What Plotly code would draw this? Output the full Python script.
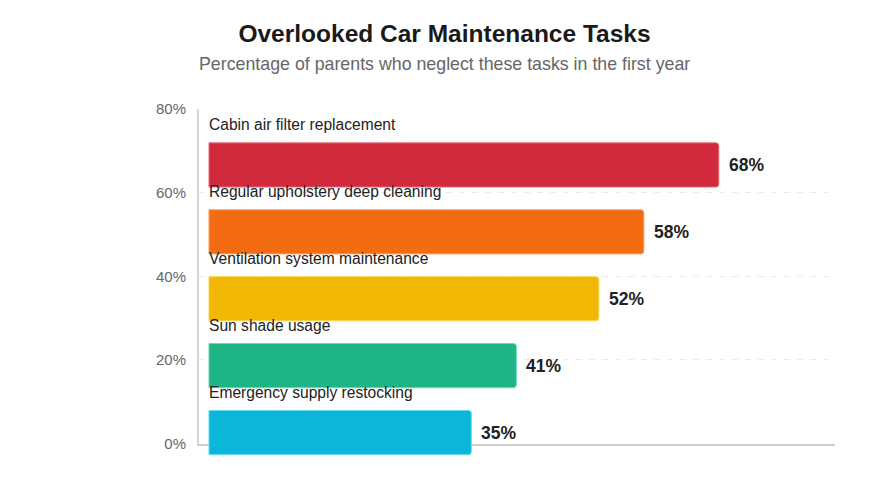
import plotly.graph_objects as go

tasks = ['Cabin air filter replacement', 'Regular upholstery deep cleaning',
         'Ventilation system maintenance', 'Sun shade usage', 'Emergency supply restocking']
values = [68, 58, 52, 41, 35]
colors = ['#d22a3d', '#f46c11', '#f2b705', '#1db486', '#0bb6d8']
edge_colors = ['#e86a78', '#fba15e', '#fbd45a', '#6fd8b5', '#6adcf2']
pct_ticks = [0, 20, 40, 60, 80]
pct_labels = ['0%', '20%', '40%', '60%', '80%']

W, H = 873, 472
ML, MR, MT, MB = 191, 46, 101, 13.5

fig = go.Figure()

# empty trace on the percentage axis (drawn first so its grid sits under the bars)
fig.add_trace(go.Scatter(x=[None], y=[None], yaxis='y', showlegend=False))

fig.add_trace(go.Bar(
    y=tasks, x=values, orientation='h', yaxis='y2',
    marker=dict(color=colors, line=dict(color=edge_colors, width=1), cornerradius=3),
    width=0.66,
    cliponaxis=False,
    hoverinfo='skip',
))

# task name above each bar, value to the right
for t, v in zip(tasks, values):
    fig.add_annotation(x=0, y=t, xref='x', yref='y2', text=t, showarrow=False,
                       xanchor='left', yanchor='middle', yshift=40, xshift=-2,
                       font=dict(size=15.6, color='#222', family='Liberation Sans'))
    fig.add_annotation(x=v, y=t, xref='x', yref='y2', text=f'<b>{v}%</b>', showarrow=False,
                       xanchor='left', yanchor='middle', xshift=8,
                       font=dict(size=17.5, color='#222', family='Liberation Sans'))

fig.update_layout(
    width=W, height=H,
    margin=dict(l=ML, r=MR, t=MT, b=MB),
    paper_bgcolor='white', plot_bgcolor='rgba(0,0,0,0)',
    showlegend=False,
    title=dict(text='<b>Overlooked Car Maintenance Tasks</b>', x=0.5, xanchor='center',
               y=0.947, yanchor='middle',
               font=dict(size=24.5, color='#1a1a1a', family='Liberation Sans')),
    font=dict(family='Liberation Sans'),
    xaxis=dict(range=[-1.33, 83.5], showticklabels=False, showgrid=False, zeroline=False,
               showline=True, linecolor='#d0d0d0', linewidth=2, anchor='y',
               automargin=False),
    yaxis=dict(range=[0, 80], tickvals=pct_ticks, ticktext=pct_labels,
               side='left', anchor='x', domain=[0.063, 1],
               showgrid=True, gridcolor='#ebebeb', griddash='6px,7px', gridwidth=1,
               zeroline=False, showline=True, linecolor='#d6d6d6', linewidth=2,
               ticks='', ticklabelstandoff=8, automargin=False,
               tickfont=dict(size=15, color='#666', family='Liberation Sans')),
    yaxis2=dict(range=[4.5, -0.5], showticklabels=False, showgrid=False, zeroline=False,
                showline=False, domain=[0, 0.937], anchor='x', automargin=False),
)

# subtitle centred on the page, not the plot
sub_x = (W / 2 - ML) / (W - ML - MR)
fig.add_annotation(text='Percentage of parents who neglect these tasks in the first year',
                   xref='paper', yref='paper', x=sub_x, y=1, yshift=45, showarrow=False,
                   xanchor='center', yanchor='middle',
                   font=dict(size=17.8, color='#666', family='Liberation Sans'))

fig.write_html('out.html')
